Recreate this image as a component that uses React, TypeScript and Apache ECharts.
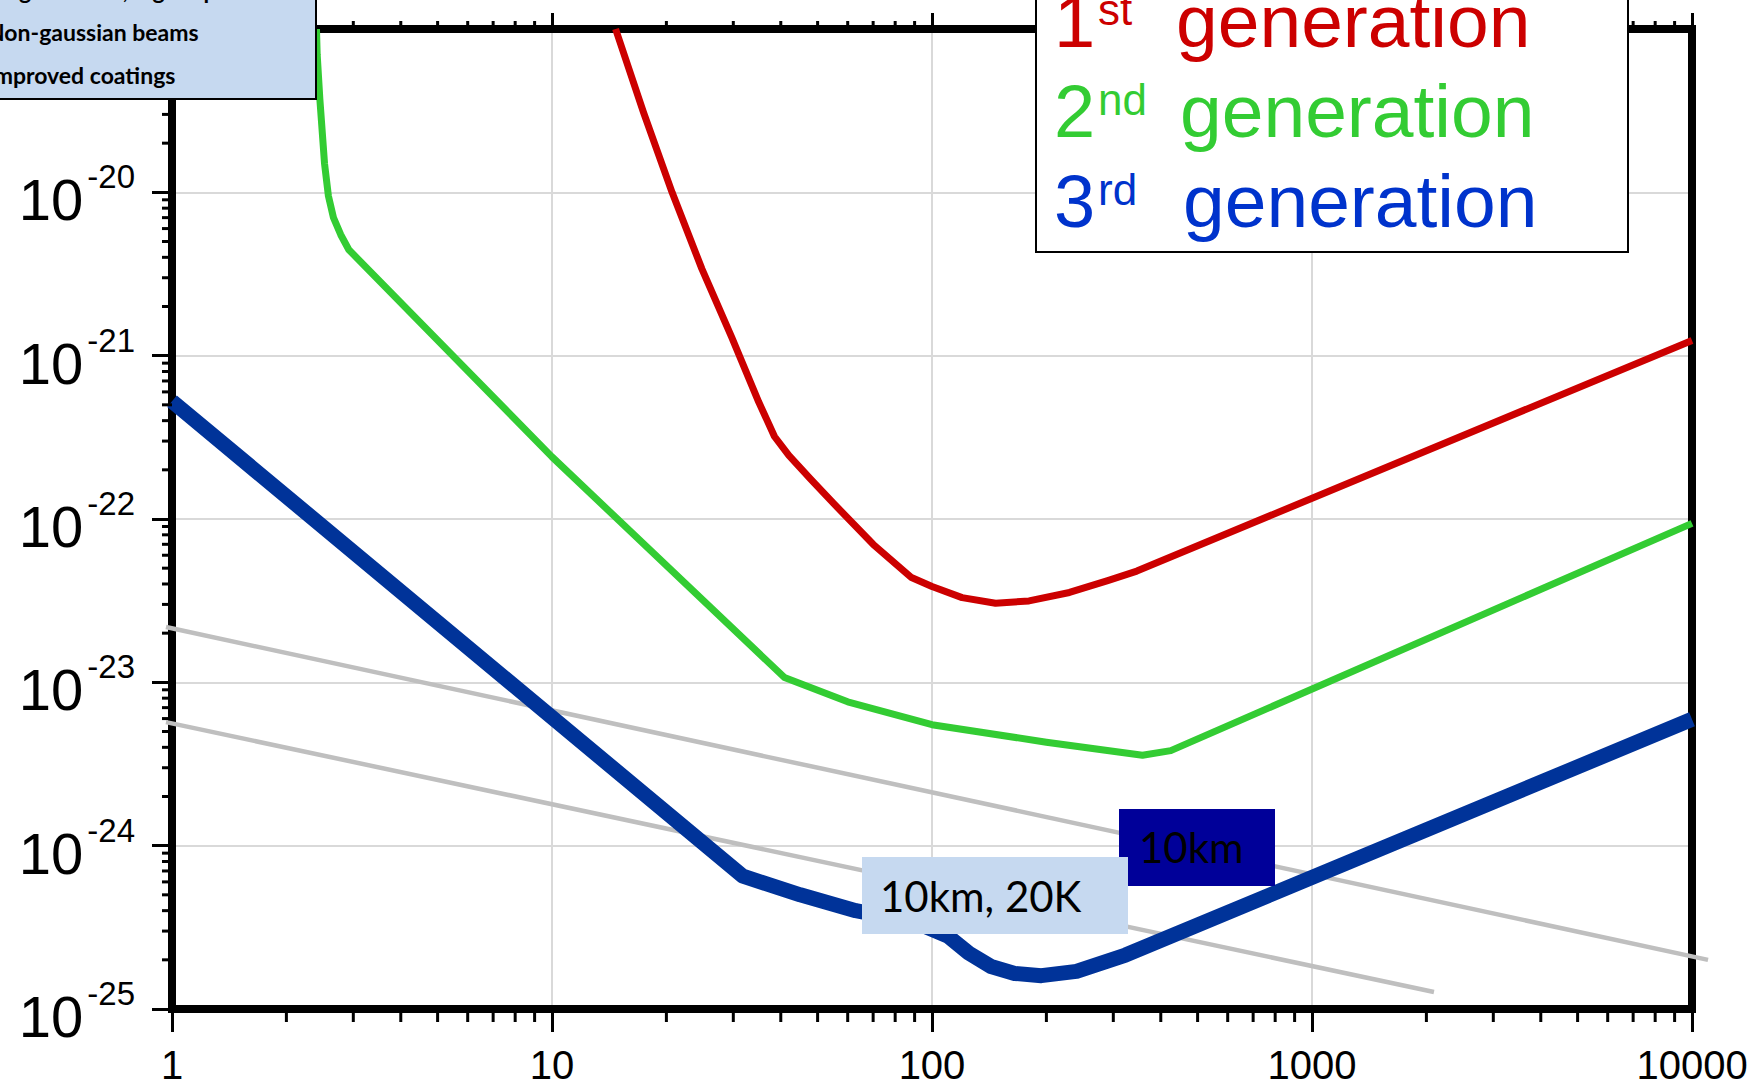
import React, { useEffect, useRef } from "react";
import * as echarts from "echarts";

// ---------------- data ----------------
const X_MIN = 1;
const X_MAX = 10000;
const STRAIN_UNIT = 1e-25; // strain values are plotted in units of 1e-25
const Y_MIN_EXP = -25;
const Y_MAX_EXP = -19;

const minorMultipliers = [2, 3, 4, 5, 6, 7, 8, 9];
const xMinorDecades = [1, 10, 100, 1000];
const yMinorDecades = [1e-25, 1e-24, 1e-23, 1e-22, 1e-21, 1e-20];

const firstGenFreq = [14.7, 17.4, 20.7, 24.8, 29.7, 35, 38.5, 42, 48, 55, 70, 88, 100, 120, 147, 180, 230, 290, 346, 10000];
const firstGenStrain = [1.0e-19, 3.1e-20, 1.0e-20, 3.4e-21, 1.3e-21, 5.2e-22, 3.2e-22, 2.45e-22, 1.75e-22, 1.25e-22, 7.0e-23, 4.4e-23, 3.86e-23, 3.3e-23, 3.05e-23, 3.15e-23, 3.55e-23, 4.2e-23, 4.8e-23, 1.24e-21];

const secondGenFreq = [2.4, 2.41, 2.45, 2.52, 2.58, 2.66, 2.78, 2.92, 10, 40.9, 60, 100, 200, 358, 425, 10000];
const secondGenStrain = [1.0e-19, 7.0e-20, 3.7e-20, 1.5e-20, 9.5e-21, 7.0e-21, 5.5e-21, 4.45e-21, 2.4e-22, 1.07e-23, 7.6e-24, 5.5e-24, 4.3e-24, 3.58e-24, 3.82e-24, 9.4e-23];

const thirdGenFreq = [1, 31.8, 45, 63, 90, 110, 125, 143, 165, 194, 240, 323, 10000];
const thirdGenStrain = [5.26e-22, 6.5e-25, 5.0e-25, 4.0e-25, 3.4e-25, 2.8e-25, 2.2e-25, 1.82e-25, 1.65e-25, 1.6e-25, 1.7e-25, 2.14e-25, 5.94e-24];

const grayUpperFreq = [0.964, 11020];
const grayUpperStrain = [2.18e-23, 2.0e-25];
const grayLowerFreq = [0.964, 2094];
const grayLowerStrain = [5.71e-24, 1.27e-25];

const featureLines = ["Large mirrors, higher power", "Non-gaussian beams", "Improved coatings"];
const generationLabels = [
  { num: "1", sup: "st", word: "generation", color: "#cc0000" },
  { num: "2", sup: "nd", word: "generation", color: "#33cc33" },
  { num: "3", sup: "rd", word: "generation", color: "#0033cc" },
];
const boxLabelDark = "10km";
const boxLabelLight = "10km, 20K";

// ---------------- helpers ----------------
const ARIAL = "'Liberation Sans', Arial, Helvetica, sans-serif";
const CALIBRI = "Lato, 'Open Sans', sans-serif";

const toPairs = (xs: number[], ys: number[]) => xs.map((x, i) => [x, ys[i] / STRAIN_UNIT]);

const Y_MIN = Math.pow(10, Y_MIN_EXP) / STRAIN_UNIT;
const Y_MAX = Math.pow(10, Y_MAX_EXP) / STRAIN_UNIT;

const minorX = xMinorDecades.flatMap((d) => minorMultipliers.map((m) => m * d));
const minorY = yMinorDecades.flatMap((d) => minorMultipliers.map((m) => (m * d) / STRAIN_UNIT));

const minorTickData: number[][] = [
  ...minorX.map((x) => [x, Y_MIN, 0]),
  ...minorX.map((x) => [x, Y_MAX, 1]),
  ...minorY.map((y) => [X_MIN, y, 2]),
];

const grayLineData = [
  [grayUpperFreq[0], grayUpperStrain[0] / STRAIN_UNIT, grayUpperFreq[1], grayUpperStrain[1] / STRAIN_UNIT],
  [grayLowerFreq[0], grayLowerStrain[0] / STRAIN_UNIT, grayLowerFreq[1], grayLowerStrain[1] / STRAIN_UNIT],
];

const axisLineStyle = { color: "#000", width: 8, cap: "square" };
const gridLineStyle = { color: "#d9d9d9", width: 2 };

const textStyle = (text: string, x: number, y: number, fill: string, fontSize: number, fontFamily: string, fontWeight = "normal") => ({
  text, x, y, fill, fontSize, fontFamily, fontWeight,
  align: "left", verticalAlign: "middle", textAlign: "left", textVerticalAlign: "middle",
});

function buildOption(): any {
  const graphicElements: any[] = [];

  // top-left feature box
  graphicElements.push({
    type: "rect",
    z: 100,
    shape: { x: -4, y: -4, width: 320, height: 103 },
    style: { fill: "#c6d9f0", stroke: "#000", lineWidth: 2 },
  });
  const featureCenters = [-10.5, 31.5, 74.5];
  featureLines.forEach((t, i) => {
    graphicElements.push({ type: "text", z: 101, style: textStyle(t, -13, featureCenters[i], "#000", 23, CALIBRI, "bold") });
  });

  // top-right generation legend
  graphicElements.push({
    type: "rect",
    z: 100,
    shape: { x: 1036, y: -4, width: 592, height: 256 },
    style: { fill: "#fff", stroke: "#000", lineWidth: 2 },
  });
  const mainCenters = [21.4, 111.4, 201.4];
  const supCenters = [9.8, 99.8, 189.8];
  const wordX = [1176, 1180, 1183];
  generationLabels.forEach((g, i) => {
    graphicElements.push({ type: "text", z: 101, style: textStyle(g.num, 1054, mainCenters[i], g.color, 74, ARIAL) });
    graphicElements.push({ type: "text", z: 101, style: textStyle(g.sup, 1098, supCenters[i], g.color, 44, ARIAL) });
    graphicElements.push({ type: "text", z: 101, style: textStyle(g.word, wordX[i], mainCenters[i], g.color, 75, ARIAL) });
  });

  // 10km boxes
  graphicElements.push({ type: "rect", z: 100, shape: { x: 1119, y: 809, width: 156, height: 77 }, style: { fill: "#000099" } });
  graphicElements.push({ type: "text", z: 101, style: textStyle(boxLabelDark, 1139, 847, "#000", 42, CALIBRI) });
  graphicElements.push({ type: "rect", z: 102, shape: { x: 862, y: 857, width: 266, height: 77 }, style: { fill: "#c6d9f0" } });
  graphicElements.push({ type: "text", z: 103, style: textStyle(boxLabelLight, 880, 896, "#000", 42, CALIBRI) });

  return {
    animation: false,
    backgroundColor: "#ffffff",
    grid: { left: 172, right: 72, top: 29, bottom: 79, containLabel: false },
    xAxis: [
      {
        type: "log",
        logBase: 10,
        min: X_MIN,
        max: X_MAX,
        splitNumber: 4,
        position: "bottom",
        axisLine: { show: true, onZero: false, lineStyle: axisLineStyle },
        axisTick: { show: true, inside: false, length: 23, lineStyle: { color: "#000", width: 3 } },
        minorTick: { show: false },
        axisLabel: {
          show: true,
          margin: 36,
          fontSize: 40,
          fontFamily: ARIAL,
          color: "#000",
          formatter: (v: number) => String(Math.round(v)),
        },
        splitLine: { show: true, lineStyle: gridLineStyle },
      },
      {
        type: "log",
        logBase: 10,
        min: X_MIN,
        max: X_MAX,
        splitNumber: 4,
        position: "top",
        axisLine: { show: true, onZero: false, lineStyle: axisLineStyle },
        axisTick: { show: true, inside: false, length: 16, lineStyle: { color: "#000", width: 3 } },
        minorTick: { show: false },
        axisLabel: { show: false },
        splitLine: { show: false },
      },
    ],
    yAxis: [
      {
        type: "log",
        logBase: 10,
        min: Y_MIN,
        max: Y_MAX,
        splitNumber: 6,
        position: "left",
        axisLine: { show: true, onZero: false, lineStyle: axisLineStyle },
        axisTick: { show: true, inside: false, length: 20, lineStyle: { color: "#000", width: 3 } },
        minorTick: { show: false },
        axisLabel: {
          show: true,
          margin: 37,
          padding: [4.5, 0, 0, 0],
          formatter: (v: number) => {
            const e = Math.round(Math.log10(v)) + Y_MIN_EXP;
            if (e === Y_MAX_EXP) return "";
            return `{b|10}{s|${e}}`;
          },
          rich: {
            b: { fontSize: 58, fontFamily: ARIAL, color: "#000", lineHeight: 68.5, verticalAlign: "bottom" },
            s: { fontSize: 33, fontFamily: ARIAL, color: "#000", lineHeight: 32, verticalAlign: "top", padding: [0, 0, 0, 4] },
          },
        },
        splitLine: { show: true, lineStyle: gridLineStyle },
      },
      {
        type: "value",
        min: 0,
        max: 1,
        position: "right",
        axisLine: { show: true, onZero: false, lineStyle: axisLineStyle },
        axisTick: { show: false },
        axisLabel: { show: false },
        splitLine: { show: false },
      },
    ],
    series: [
      {
        type: "custom",
        name: "scaling lines",
        data: grayLineData,
        encode: { x: [0, 2], y: [1, 3] },
        clip: false,
        silent: true,
        z: 2,
        renderItem: (params: any, api: any) => {
          // calibrate on the axis extents, so that the lines may run past the frame
          const c0 = api.coord([X_MIN, Y_MIN]);
          const c1 = api.coord([X_MAX, Y_MAX]);
          const px = (f: number, h: number) => [
            c0[0] + (Math.log10(f / X_MIN) / Math.log10(X_MAX / X_MIN)) * (c1[0] - c0[0]),
            c0[1] + (Math.log10(h / Y_MIN) / Math.log10(Y_MAX / Y_MIN)) * (c1[1] - c0[1]),
          ];
          const a = px(api.value(0), api.value(1));
          const b = px(api.value(2), api.value(3));
          return {
            type: "line",
            shape: { x1: a[0], y1: a[1], x2: b[0], y2: b[1] },
            style: { stroke: "#bfbfbf", lineWidth: 4.5 },
          };
        },
      },
      {
        type: "line",
        name: "1st generation",
        data: toPairs(firstGenFreq, firstGenStrain),
        symbol: "none",
        lineStyle: { color: "#cc0000", width: 7, join: "round" },
        z: 3,
      },
      {
        type: "line",
        name: "2nd generation",
        data: toPairs(secondGenFreq, secondGenStrain),
        symbol: "none",
        lineStyle: { color: "#33cc33", width: 7, join: "round" },
        z: 3,
      },
      {
        type: "line",
        name: "3rd generation",
        data: toPairs(thirdGenFreq, thirdGenStrain),
        symbol: "none",
        lineStyle: { color: "#003399", width: 15, join: "round" },
        z: 4,
      },
      {
        type: "custom",
        name: "minor ticks",
        data: minorTickData,
        clip: false,
        silent: true,
        z: 5,
        renderItem: (params: any, api: any) => {
          const kind = api.value(2);
          const p = api.coord([api.value(0), api.value(1)]);
          let shape;
          if (kind === 0) shape = { x1: p[0], y1: p[1], x2: p[0], y2: p[1] + 13 };
          else if (kind === 1) shape = { x1: p[0], y1: p[1], x2: p[0], y2: p[1] - 8 };
          else shape = { x1: p[0], y1: p[1], x2: p[0] - 10, y2: p[1] };
          return { type: "line", shape, style: { stroke: "#000", lineWidth: 3 } };
        },
      },
    ],
    graphic: { elements: graphicElements },
  };
}

export default function App() {
  const ref = useRef<HTMLDivElement>(null);
  useEffect(() => {
    if (!ref.current) return;
    const chart = echarts.init(ref.current, null, { renderer: "svg" });
    chart.setOption(buildOption());
    return () => chart.dispose();
  }, []);
  return (
    <div
      ref={ref}
      style={{ position: "fixed", left: 0, top: 0, width: 1764, height: 1088, background: "#fff" }}
    />
  );
}
